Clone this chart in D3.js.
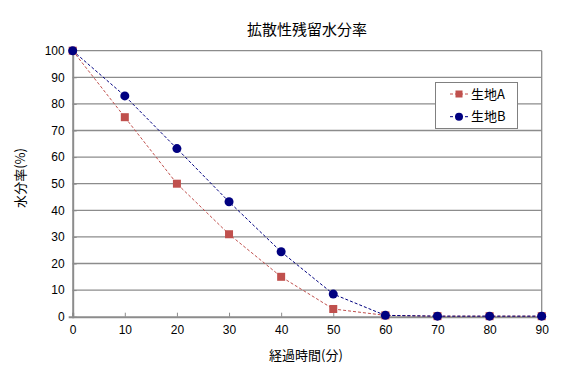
<!DOCTYPE html>
<html><head><meta charset="utf-8">
<script src="https://cdn.jsdelivr.net/npm/d3@7"></script>
<style>body{margin:0;background:#fff}svg{display:block}</style>
</head><body>
<svg id="c" width="571" height="379"></svg>
<script>
const minutes = [0,10,20,30,40,50,60,70,80,90];
const seriesA = [100,75,50,31,15,2.9,0.5,0.2,0.2,0.2];
const seriesB = [100,83,63.2,43.2,24.4,8.5,0.5,0.2,0.2,0.2];
const yTicks = [0,10,20,30,40,50,60,70,80,90,100];
const seriesNames = ["生地A","生地B"];
const title = "拡散性残留水分率";
const xLabel = "経過時間(分)";
const yLabel = "水分率(%)";

const svg = d3.select("#c");
const font = "'Liberation Sans', Arial, 'Noto Sans CJK JP', sans-serif";
const cjk = "'Noto Sans CJK JP', sans-serif";
const x = d3.scaleLinear().domain([0,90]).range([72.7,541.7]);
const y = d3.scaleLinear().domain([0,100]).range([316.7,50.7]);

// grid
svg.append("g").selectAll("line").data(yTicks.filter(d=>d>0)).join("line")
  .attr("x1",x(0)).attr("x2",x(90)).attr("y1",d=>y(d)).attr("y2",d=>y(d))
  .attr("stroke","#8c8c8c").attr("stroke-width",1.3);
// right border
svg.append("line").attr("x1",x(90)).attr("x2",x(90)).attr("y1",y(100)).attr("y2",y(0))
  .attr("stroke","#8c8c8c").attr("stroke-width",1.3);

// axes
const yAxis = svg.append("g").attr("transform",`translate(${x(0)},0)`)
  .call(d3.axisLeft(y).tickValues(yTicks).tickSize(4).tickPadding(4));
const xAxis = svg.append("g").attr("transform",`translate(0,${y(0)})`)
  .call(d3.axisBottom(x).tickValues(minutes).tickSize(-4).tickPadding(9));
[yAxis,xAxis].forEach(g=>{
  g.select(".domain").attr("stroke","#8c8c8c").attr("stroke-width",2);
  g.selectAll(".tick line").attr("stroke","#8c8c8c");
  g.selectAll("text").attr("font-family",font).attr("font-size",12).attr("fill","#000");
});
yAxis.selectAll(".tick line").attr("x2",4);
xAxis.selectAll(".tick line").attr("y2",-4);

// series
const colors = ["#c0504d","#000080"];
const data = [seriesA, seriesB];
const line = d3.line().x((d,i)=>x(minutes[i])).y(d=>y(d));
data.forEach((s,k)=>{
  svg.append("path").datum(s).attr("d",line).attr("fill","none")
    .attr("stroke",colors[k]).attr("stroke-width",1).attr("stroke-dasharray","3,2");
});
// markers
svg.append("g").selectAll("rect").data(seriesA).join("rect")
  .attr("x",(d,i)=>x(minutes[i])-4).attr("y",d=>y(d)-4).attr("width",8).attr("height",8)
  .attr("fill",colors[0]);
svg.append("g").selectAll("circle").data(seriesB).join("circle")
  .attr("cx",(d,i)=>x(minutes[i])).attr("cy",d=>y(d)).attr("r",4.5)
  .attr("fill",colors[1]);

// legend
const lg = svg.append("g");
lg.append("rect").attr("x",435.5).attr("y",82.5).attr("width",82).attr("height",46)
  .attr("fill","#fff").attr("stroke","#808080").attr("stroke-width",1);
seriesNames.forEach((n,k)=>{
  const yy = 94 + k*22.7;
  lg.append("line").attr("x1",450).attr("x2",470).attr("y1",yy).attr("y2",yy)
    .attr("stroke",colors[k]).attr("stroke-dasharray","3,2");
  if(k===0) lg.append("rect").attr("x",455.5).attr("y",yy-3.5).attr("width",7).attr("height",7).attr("fill",colors[0]);
  else lg.append("circle").attr("cx",459).attr("cy",yy).attr("r",4).attr("fill",colors[1]);
  lg.append("text").attr("x",471).attr("y",yy).attr("dy","0.36em").text(n)
    .attr("font-family",cjk).attr("font-size",13).attr("fill","#000");
});

// titles
svg.append("text").attr("x",307).attr("y",30).attr("dy","0.36em").attr("text-anchor","middle")
  .attr("font-family",cjk).attr("font-size",15).text(title);
svg.append("text").attr("x",306).attr("y",355).attr("dy","0.36em").attr("text-anchor","middle")
  .attr("font-family",cjk).attr("font-size",13).text(xLabel);
svg.append("text").attr("transform","translate(20,178) rotate(-90)").attr("dy","0.36em")
  .attr("text-anchor","middle").attr("font-family",cjk).attr("font-size",13).text(yLabel);
</script>
</body></html>
